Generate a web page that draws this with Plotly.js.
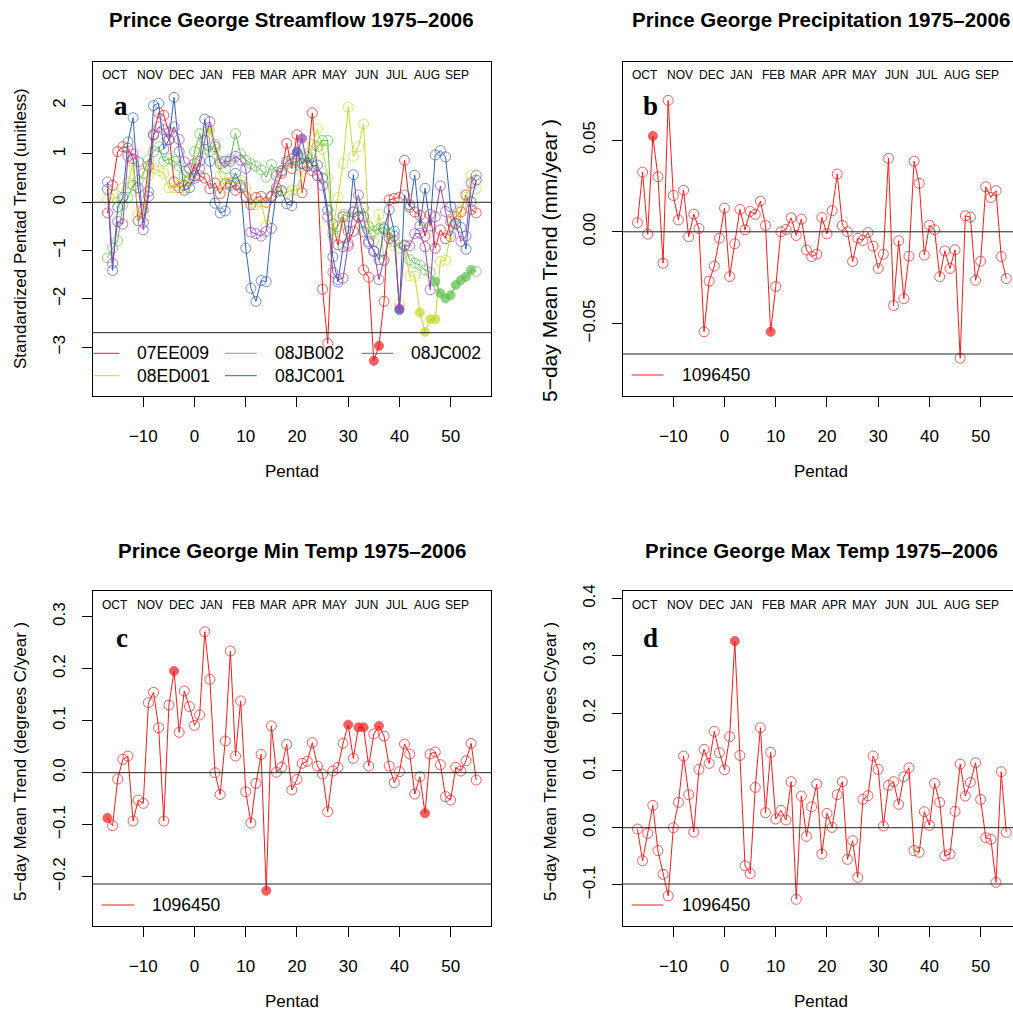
<!DOCTYPE html>
<html>
<head>
<meta charset="utf-8">
<script src="https://cdn.plot.ly/plotly-3.0.1.min.js"></script>
<style>html,body{margin:0;padding:0;background:#fff;}#chart{width:1013px;height:1012px;}</style>
</head>
<body>
<div id="chart"></div>
<script>
// ---------------- DATA ----------------
const pentads = [-17,-16,-15,-14,-13,-12,-11,-10,-9,-8,-7,-6,-5,-4,-3,-2,-1,
  0,1,2,3,4,5,6,7,8,9,10,11,12,13,14,15,16,17,18,19,20,21,22,23,24,25,26,27,28,29,
  30,31,32,33,34,35,36,37,38,39,40,41,42,43,44,45,46,47,48,49,50,51,52,53,54,55];

const monthNames = ["OCT","NOV","DEC","JAN","FEB","MAR","APR","MAY","JUN","JUL","AUG","SEP"];
const monthPos   = [-15.6,-8.7,-2.5,3.3,9.5,15.5,21.4,27.4,33.5,39.6,45.4,51.3];

// Panel a: standardized streamflow trends
const stations = ["07EE009","08ED001","08JB002","08JC001","08JC002"];
const flow07EE009 = [-0.22,0.35,1.05,1.15,1.12,0.9,-0.38,-0.15,0.75,1.4,1.85,1.8,1.45,0.42,0.3,0.35,0.45,
  0.8,0.55,0.5,0.28,0.4,0.18,0.38,0.4,0.25,0.3,
  0.12,-0.05,0.1,0.12,0.0,0.12,0.3,0.6,1.22,0.7,
  1.4,0.2,0.75,1.85,0.55,-1.8,-2.92,-0.45,-0.88,-0.3,
  -0.85,-0.6,-0.3,-1.4,-1.55,-3.28,-2.97,-2.05,0.05,0.08,
  0.1,0.87,-0.05,-0.2,-0.27,-0.7,-0.25,-0.95,-0.57,-0.75,
  -0.4,-0.3,-0.2,0.15,-0.15,-0.22];
const flow08ED001 = [0.05,0.18,0.0,0.3,0.4,0.8,-0.25,-0.3,0.55,0.7,0.65,0.6,0.3,0.3,0.35,0.3,0.45,
  0.7,1.1,1.45,1.5,1.1,0.55,0.3,0.5,0.5,0.45,
  0.3,0.0,-0.05,0.0,-0.47,0.15,0.25,0.22,0.2,0.25,
  0.25,0.62,0.9,1.2,1.52,1.1,0.5,-0.6,0.1,0.8,
  1.97,0.95,1.15,1.62,-0.55,-0.82,-0.25,-1.2,-0.65,-0.9,
  -2.1,-0.9,-1.52,-1.53,-2.28,-2.68,-2.42,-2.42,-1.22,-1.2,
  -0.65,-0.35,-0.15,0.1,0.55,0.28];
const flow08JB002 = [-1.15,-0.95,-0.8,-0.05,0.1,0.35,0.45,0.6,0.88,1.05,1.15,0.85,0.9,0.85,0.75,0.55,0.5,
  1.05,1.42,1.1,1.05,1.2,0.85,0.7,0.9,1.42,1.0,
  0.87,0.8,0.75,0.67,0.52,0.78,0.62,0.65,0.8,0.82,
  0.85,0.8,1.0,0.8,1.15,1.28,1.28,-0.68,-0.5,-0.25,
  -0.3,-0.2,-0.3,-0.12,-0.5,-0.6,-0.55,-0.52,-0.64,-0.81,
  -0.95,-0.88,-1.19,-1.26,-1.3,-1.4,-1.45,-1.64,-1.88,-1.99,
  -1.92,-1.71,-1.61,-1.54,-1.4,-1.43];
const flow08JC001 = [0.27,-1.41,-0.1,0.1,1.25,1.75,0.3,-0.42,0.22,2.0,2.05,1.1,1.3,2.17,1.05,0.25,0.3,
  0.55,0.85,1.72,0.85,-0.02,-0.22,-0.18,0.35,0.6,0.35,
  -0.95,-1.78,-2.05,-1.62,-1.64,-0.54,0.22,0.24,-0.03,-0.07,
  1.05,0.8,0.94,0.75,0.77,0.5,-0.16,-1.13,-1.65,-0.92,
  -0.6,0.57,-0.3,-0.61,-0.81,-1.02,-1.19,-0.55,-0.16,-0.6,
  -2.23,0.15,-0.1,0.56,-0.49,0.29,-0.49,0.98,1.07,0.94,
  -0.09,-0.45,-0.52,-0.97,0.01,0.46];
const flow08JC002 = [0.42,-1.26,-0.4,-0.45,0.95,1.0,0.84,-0.57,0.12,1.39,1.56,1.5,1.29,1.56,1.3,0.84,0.7,
  0.5,0.7,1.29,1.67,1.15,0.8,0.85,0.85,0.95,0.87,
  0.7,-0.62,-0.65,-0.7,-0.6,0.12,0.55,0.65,0.85,0.9,
  1.0,1.32,0.75,0.65,0.55,0.35,-0.3,-1.45,-1.6,-1.57,
  -0.9,-0.2,0.15,-0.3,-0.85,-1.0,-1.6,-1.2,-0.75,-0.7,
  -2.2,-0.9,-0.9,-0.65,-0.64,-0.92,-1.81,-0.3,0.34,-0.19,
  -0.71,-0.43,-0.81,-0.7,0.4,0.56];
const sig07EE009 = [35,36];
const sig08ED001 = [3,44,45,46,47];
const sig08JB002 = [47,48,49,50,51,52,53,54];
const sig08JC001 = [20,40];
const sig08JC002 = [21,40];

// Panel b: precipitation trend (mm/year), station 1096450
const precipTrend = [0.0049,0.0325,-0.0013,0.0522,0.030,-0.0171,0.0716,0.0198,0.0065,0.0227,-0.0027,0.0096,0.0018,-0.0545,-0.0269,-0.0187,-0.0035,
  0.0129,-0.0244,-0.0065,0.0122,0.0011,0.0111,0.0095,0.0167,0.0035,-0.0545,
  -0.0298,0.0,0.0013,0.0076,-0.002,0.0069,-0.010,-0.0135,-0.0122,0.0078,
  -0.0011,0.0115,0.0315,0.0035,0.0,-0.0162,-0.0035,-0.0047,-0.0004,-0.0078,
  -0.020,-0.0122,0.040,-0.0402,-0.0049,-0.0364,-0.0133,0.0385,0.0264,-0.0127,
  0.0035,0.0011,-0.0245,-0.0104,-0.020,-0.0098,-0.0689,0.0087,0.008,-0.0264,
  -0.016,0.0245,0.0187,0.0224,-0.0135,-0.0255];
const precipSig = [-14,9];

// Panel c: min temperature trend (degrees C/year)
const tminTrend = [-0.0872,-0.102,-0.0122,0.0256,0.032,-0.093,-0.0526,-0.059,0.1346,0.1545,0.0865,-0.093,0.130,0.1955,0.0776,0.157,0.127,
  0.091,0.111,0.271,0.1795,0.0,-0.042,0.061,0.234,0.032,0.138,
  -0.0365,-0.0968,-0.0205,0.0353,-0.227,0.090,0.001,0.0105,0.0545,-0.0333,
  -0.0128,0.018,0.0218,0.0577,0.0128,-0.0026,-0.075,0.0032,0.0103,0.0564,
  0.0923,0.0276,0.0872,0.0872,0.0128,0.0744,0.0897,0.0705,0.0128,-0.0192,
  0.0019,0.0551,0.0359,-0.041,-0.0077,-0.078,0.0359,0.0397,0.0154,-0.046,
  -0.0526,0.0103,0.0032,0.023,0.0564,-0.0141];
const tminSig = [-17,-4,14,30,32,33,36,45];

// Panel d: max temperature trend (degrees C/year)
const tmaxTrend = [-0.0023,-0.0576,-0.0099,0.039,-0.040,-0.0814,-0.119,0.0,0.0442,0.125,0.0576,-0.0076,0.1018,0.1367,0.1123,0.168,0.1309,
  0.1012,0.1588,0.3258,0.1262,-0.0663,-0.0803,0.0704,0.1745,0.0262,0.1315,
  0.0151,0.0302,0.0134,0.0803,-0.125,0.0553,-0.0151,0.0366,0.0762,-0.046,
  0.025,0.0006,0.0576,0.0803,-0.0553,-0.0227,-0.0867,0.0494,0.0558,0.1251,
  0.1018,0.0029,0.0739,0.0803,0.0407,0.089,0.1047,-0.0401,-0.043,0.0279,
  0.0041,0.0774,0.0442,-0.0489,-0.046,0.0285,0.1111,0.0553,0.0791,0.1134,
  0.0494,-0.0175,-0.0204,-0.0954,0.0977,-0.0081];
const tmaxSig = [2];

const climStation = "1096450";
const xTicks = [-10,0,10,20,30,40,50];
const yTicksA = [-3,-2,-1,0,1,2];
const yTicksB = [-0.05,0,0.05];
const yTicksC = [-0.2,-0.1,0,0.1,0.2,0.3];
const yTicksD = [-0.1,0,0.1,0.2,0.3,0.4];

// ---------------- STYLE / LAYOUT ----------------
const W = 1013, H = 1012;
const FONT = "Liberation Sans, Arial, Helvetica, sans-serif";
const px = v => v / W;
const py = v => 1 - v / H;

const colors = {
  "07EE009": "#f01e1e",
  "08ED001": "#c5da2a",
  "08JB002": "#5cc04a",
  "08JC001": "#3564b5",
  "08JC002": "#9545b3"
};
const red = "#f01e1e";

function series(y, sig, color, xa, ya) {
  return {
    x: pentads, y: y, xaxis: xa, yaxis: ya,
    type: "scatter", mode: "lines+markers",
    line: {color: color, width: 1},
    marker: {
      symbol: pentads.map(p => sig.includes(p) ? "circle" : "circle-open"),
      size: pentads.map(p => sig.includes(p) ? 9 : 10),
      color: color,
      line: {color: color, width: 1}
    },
    showlegend: false, hoverinfo: "skip", cliponaxis: true
  };
}

const flows = [flow07EE009, flow08ED001, flow08JB002, flow08JC001, flow08JC002];
const sigs = [sig07EE009, sig08ED001, sig08JB002, sig08JC001, sig08JC002];
const traces = [];
stations.forEach((s, i) => traces.push(series(flows[i], sigs[i], colors[s], "x", "y")));
traces.push(series(precipTrend, precipSig, red, "x2", "y2"));
traces.push(series(tminTrend, tminSig, red, "x3", "y3"));
traces.push(series(tmaxTrend, tmaxSig, red, "x4", "y4"));

const domL = [px(92.7), px(491)];
const domR = [px(622.7), 1];
const domT = [py(396), py(61.7)];
const domB = [py(926), py(591)];

function xaxis(dom, range, anchor) {
  return {
    domain: dom, range: range, anchor: anchor,
    tickmode: "array", tickvals: xTicks,
    ticks: "outside", ticklen: 10, tickwidth: 1, tickcolor: "#000",
    showline: true, linecolor: "#000", linewidth: 1, mirror: true,
    showgrid: false, zeroline: false,
    tickfont: {family: FONT, size: 17, color: "#000"},
    ticklabelstandoff: 15
  };
}
function yaxis(dom, range, anchor, vals, fmt, mirror) {
  return {
    domain: dom, range: range, anchor: anchor,
    tickmode: "array", tickvals: vals,
    ticktext: vals.map(v => (v < 0 ? "\u2212" : "") + Math.abs(v).toFixed(fmt)),
    tickangle: -90,
    ticks: "outside", ticklen: 10, tickwidth: 1, tickcolor: "#000",
    showline: true, linecolor: "#000", linewidth: 1, mirror: mirror,
    showgrid: false, zeroline: false,
    tickfont: {family: FONT, size: 17, color: "#000"},
    ticklabelstandoff: 10
  };
}

const xrL = [-19.88, 57.88];
const xrR = [-19.88, 56.31];

const shapes = [];
function hline(xa, ya, yv) {
  shapes.push({type: "line", xref: xa + " domain", yref: ya, x0: 0, x1: 1, y0: yv, y1: yv,
    line: {color: "#222", width: 1}, layer: "above"});
}
function hlineDom(xa, ya, frac) {
  shapes.push({type: "line", xref: xa + " domain", yref: ya + " domain", x0: 0, x1: 1, y0: frac, y1: frac,
    line: {color: "#222", width: 1}, layer: "above"});
}
hline("x", "y", 0); hline("x2", "y2", 0); hline("x3", "y3", 0); hline("x4", "y4", 0);
hlineDom("x", "y", (396 - 332.7) / (396 - 61.7));
hlineDom("x2", "y2", (396 - 354) / (396 - 61.7));
hlineDom("x3", "y3", (926 - 884) / (926 - 591));
hlineDom("x4", "y4", (926 - 884) / (926 - 591));

const annotations = [];
function text(x, y, t, opts) {
  annotations.push(Object.assign({
    xref: "paper", yref: "paper", x: px(x), y: py(y), text: t, showarrow: false,
    xanchor: "center", yanchor: "middle",
    font: {family: FONT, size: 17, color: "#000"}
  }, opts || {}));
}
function legendItem(x0, x1, y, label, color, tx) {
  shapes.push({type: "line", xref: "paper", yref: "paper", x0: px(x0), x1: px(x1), y0: py(y), y1: py(y),
    line: {color: color, width: 1}});
  text(tx, y, label, {xanchor: "left", font: {family: FONT, size: 17.5, color: "#000"}});
}

// titles
text(291.7, 20, "<b>Prince George Streamflow 1975\u20132006</b>", {font: {family: FONT, size: 20.5, color: "#000"}});
text(821, 20, "<b>Prince George Precipitation 1975\u20132006</b>", {font: {family: FONT, size: 20.5, color: "#000"}});
text(291.7, 550, "<b>Prince George Min Temp 1975\u20132006</b>", {font: {family: FONT, size: 20.5, color: "#000"}});
text(821, 550, "<b>Prince George Max Temp 1975\u20132006</b>", {font: {family: FONT, size: 20.5, color: "#000"}});

// axis titles
text(291.7, 471, "Pentad");
text(821, 471, "Pentad");
text(291.7, 1001, "Pentad");
text(821, 1001, "Pentad");
text(20, 229, "Standardized Pentad Trend (unitless)", {textangle: -90});
text(550, 261, "5\u2212day Mean Trend (mm/year )", {textangle: -90, font: {family: FONT, size: 21, color: "#000"}});
text(20, 762, "5\u2212day Mean Trend (degrees C/year )", {textangle: -90});
text(550, 762, "5\u2212day Mean Trend (degrees C/year )", {textangle: -90});

// panel letters
const SERIF = "Liberation Serif, Times New Roman, serif";
text(121, 106, "<b>a</b>", {font: {family: SERIF, size: 27, color: "#000"}});
text(650, 106, "<b>b</b>", {font: {family: SERIF, size: 27, color: "#000"}});
text(122, 638, "<b>c</b>", {font: {family: SERIF, size: 27, color: "#000"}});
text(650, 638, "<b>d</b>", {font: {family: SERIF, size: 27, color: "#000"}});

// month labels
[["x", 75], ["x2", 75], ["x3", 605], ["x4", 605]].forEach(([xa, yy]) => {
  monthNames.forEach((m, i) => {
    annotations.push({xref: xa, yref: "paper", x: monthPos[i], y: py(yy), text: m, showarrow: false,
      xanchor: "center", yanchor: "middle", font: {family: FONT, size: 12, color: "#000"}});
  });
});

// legends
legendItem(93.3, 119.3, 353.3, stations[0], colors["07EE009"], 135);
legendItem(93.3, 119.3, 375.7, stations[1], colors["08ED001"], 135);
legendItem(225, 256.7, 353.3, stations[2], colors["08JB002"], 272.7);
legendItem(225, 256.7, 375.7, stations[3], colors["08JC001"], 272.7);
legendItem(361.7, 393.3, 353.3, stations[4], colors["08JC002"], 409.3);
legendItem(631.7, 663.3, 375, climStation, red, 680);
legendItem(101.7, 134.3, 905, climStation, red, 150);
legendItem(631.7, 663.3, 905, climStation, red, 680);

const layout = {
  width: W, height: H,
  margin: {l: 0, r: 0, t: 0, b: 0, pad: 0},
  paper_bgcolor: "#fff", plot_bgcolor: "#fff",
  showlegend: false,
  font: {family: FONT, color: "#000"},
  xaxis: xaxis(domL, xrL, "y"),
  yaxis: yaxis(domT, [-4.008, 2.909], "x", yTicksA, 0, true),
  xaxis2: xaxis(domR, xrR, "y2"),
  yaxis2: yaxis(domT, [-0.0895, 0.0927], "x2", yTicksB, 2, false),
  xaxis3: xaxis(domL, xrL, "y3"),
  yaxis3: yaxis(domB, [-0.2948, 0.3494], "x3", yTicksC, 1, true),
  xaxis4: xaxis(domR, xrR, "y4"),
  yaxis4: yaxis(domB, [-0.1716, 0.4132], "x4", yTicksD, 1, false),
  shapes: shapes,
  annotations: annotations
};

Plotly.newPlot("chart", traces, layout, {staticPlot: true, displayModeBar: false});
</script>
</body>
</html>
